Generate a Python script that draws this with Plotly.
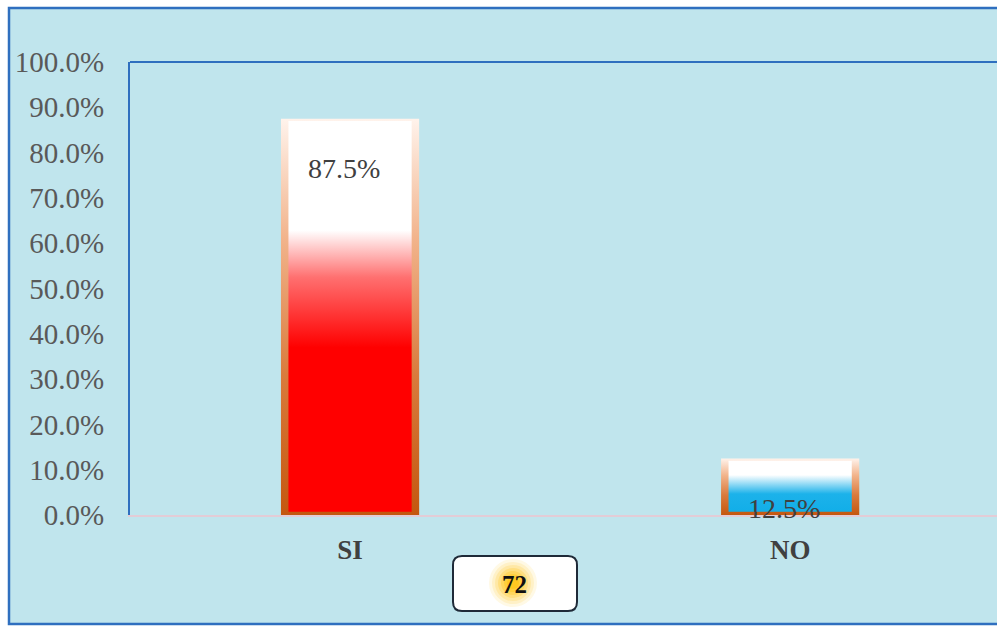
import plotly.graph_objects as go

# ---- data ----
categories = ["SI", "NO"]
percentages = [87.5, 12.5]
total_label = "72"
y_ticks = [0, 10, 20, 30, 40, 50, 60, 70, 80, 90, 100]

# ---- styling ----
BG = "#c0e5ed"
FRAME_BLUE = "#2f6fbf"
SERIF = "Liberation Serif, Times New Roman, serif"
BAR_HALF = 0.157          # half bar width, x units
SIDE = 0.017              # side border, x units
BOTTOM = 0.7              # bottom border, y units (%)
TOP = 0.5                 # top border, y units (%)

border_scale = [[0, "#c4570f"], [0.35, "#d97a3c"], [0.7, "#f2b48c"], [1, "#fff3ec"]]
fill_scales = [
    [[0, "#ff0000"], [0.42, "#ff0000"], [0.6, "#ff7070"], [0.72, "#ffffff"], [1, "#ffffff"]],
    [[0, "#12aee8"], [0.35, "#1cb2ea"], [0.72, "#ffffff"], [1, "#ffffff"]],
]

L, R, T, B = 130, 0, 62, 111
W, H = 997, 626
plot_w = W - L - R
plot_h = H - T - B


def px_x(p):
    return (p - L) / plot_w


def px_y(p):
    return (H - B - p) / plot_h


fig = go.Figure()

for i, (cat, val) in enumerate(zip(categories, percentages)):
    x0, x1 = i - BAR_HALF, i + BAR_HALF
    # outer (border) rectangle
    fig.add_trace(go.Scatter(
        x=[x0, x1, x1, x0, x0], y=[0, 0, val, val, 0],
        mode="lines", line=dict(width=0), fill="toself",
        fillgradient=dict(type="vertical", colorscale=border_scale),
        hoverinfo="skip", showlegend=False,
    ))
    # inner gradient fill
    fig.add_trace(go.Scatter(
        x=[x0 + SIDE, x1 - SIDE, x1 - SIDE, x0 + SIDE, x0 + SIDE],
        y=[BOTTOM, BOTTOM, val - TOP, val - TOP, BOTTOM],
        mode="lines", line=dict(width=0), fill="toself",
        fillgradient=dict(type="vertical", colorscale=fill_scales[i]),
        hoverinfo="skip", showlegend=False,
    ))
    fig.add_annotation(
        x=i, y=val, xref="x", yref="y", xanchor="center", yanchor="middle",
        xshift=-6, yshift=-50, showarrow=False,
        text=f"{val:.1f}%", font=dict(family=SERIF, size=28, color="#404040"),
    )

shapes = [
    # outer frame with background
    dict(type="rect", xref="paper", yref="paper",
         x0=px_x(9), x1=px_x(1002), y0=px_y(624), y1=px_y(8),
         fillcolor=BG, line=dict(color=FRAME_BLUE, width=2.5), layer="below"),
    # top edge of plot area
    dict(type="line", xref="paper", yref="paper", x0=0, x1=1.01, y0=1, y1=1,
         line=dict(color=FRAME_BLUE, width=2)),
]

# rounded box around the total
cx = px_x(515)
hw, hh, rr = 62, 27.5, 9
box_path = (
    f"M {-hw + rr},{-hh} L {hw - rr},{-hh} Q {hw},{-hh} {hw},{-hh + rr} "
    f"L {hw},{hh - rr} Q {hw},{hh} {hw - rr},{hh} L {-hw + rr},{hh} "
    f"Q {-hw},{hh} {-hw},{hh - rr} L {-hw},{-hh + rr} Q {-hw},{-hh} {-hw + rr},{-hh} Z"
)
shapes.append(dict(type="path", xref="paper", yref="paper", xsizemode="pixel", ysizemode="pixel",
                   xanchor=cx, yanchor=px_y(583.5), path=box_path,
                   fillcolor="white", line=dict(color="#1f2a38", width=2)))

# glow behind the total
gx, gy = px_x(513), px_y(583)
for r, op in [(24, 0.10), (21, 0.13), (18, 0.17), (15, 0.22), (12, 0.28), (9, 0.35), (6, 0.45)]:
    shapes.append(dict(
        type="circle", xref="paper", yref="paper", xsizemode="pixel", ysizemode="pixel",
        xanchor=gx, yanchor=gy, x0=-r, x1=r, y0=-r, y1=r,
        fillcolor="#ffc000", opacity=op, line=dict(width=0),
    ))

fig.add_annotation(
    x=px_x(514), y=px_y(584), xref="paper", yref="paper",
    xanchor="center", yanchor="middle", showarrow=False,
    text=f"<b>{total_label}</b>", font=dict(family=SERIF, size=25, color="#111111"),
)

fig.update_layout(
    width=W, height=H,
    margin=dict(l=L, r=R, t=T, b=B, pad=0),
    paper_bgcolor="white",
    plot_bgcolor="rgba(0,0,0,0)",
    shapes=shapes,
    showlegend=False,
    xaxis=dict(
        range=[-0.5, 1.47], tickvals=list(range(len(categories))),
        ticktext=[f"<b>{c}</b>" for c in categories],
        tickfont=dict(family=SERIF, size=27, color="#404040"),
        ticks="outside", ticklen=10, tickcolor="rgba(0,0,0,0)",
        showgrid=False, zeroline=False,
        showline=True, linecolor="#e3ccd6", linewidth=1.5,
        fixedrange=True,
    ),
    yaxis=dict(
        range=[0, 100], tickvals=y_ticks,
        ticktext=[f"{v:.1f}%" for v in y_ticks],
        tickfont=dict(family=SERIF, size=29, color="#595959"),
        ticks="outside", ticklen=18, tickcolor="rgba(0,0,0,0)",
        showgrid=False, zeroline=False,
        showline=True, linecolor=FRAME_BLUE, linewidth=2,
        fixedrange=True,
    ),
)

fig.write_html("out.html")
